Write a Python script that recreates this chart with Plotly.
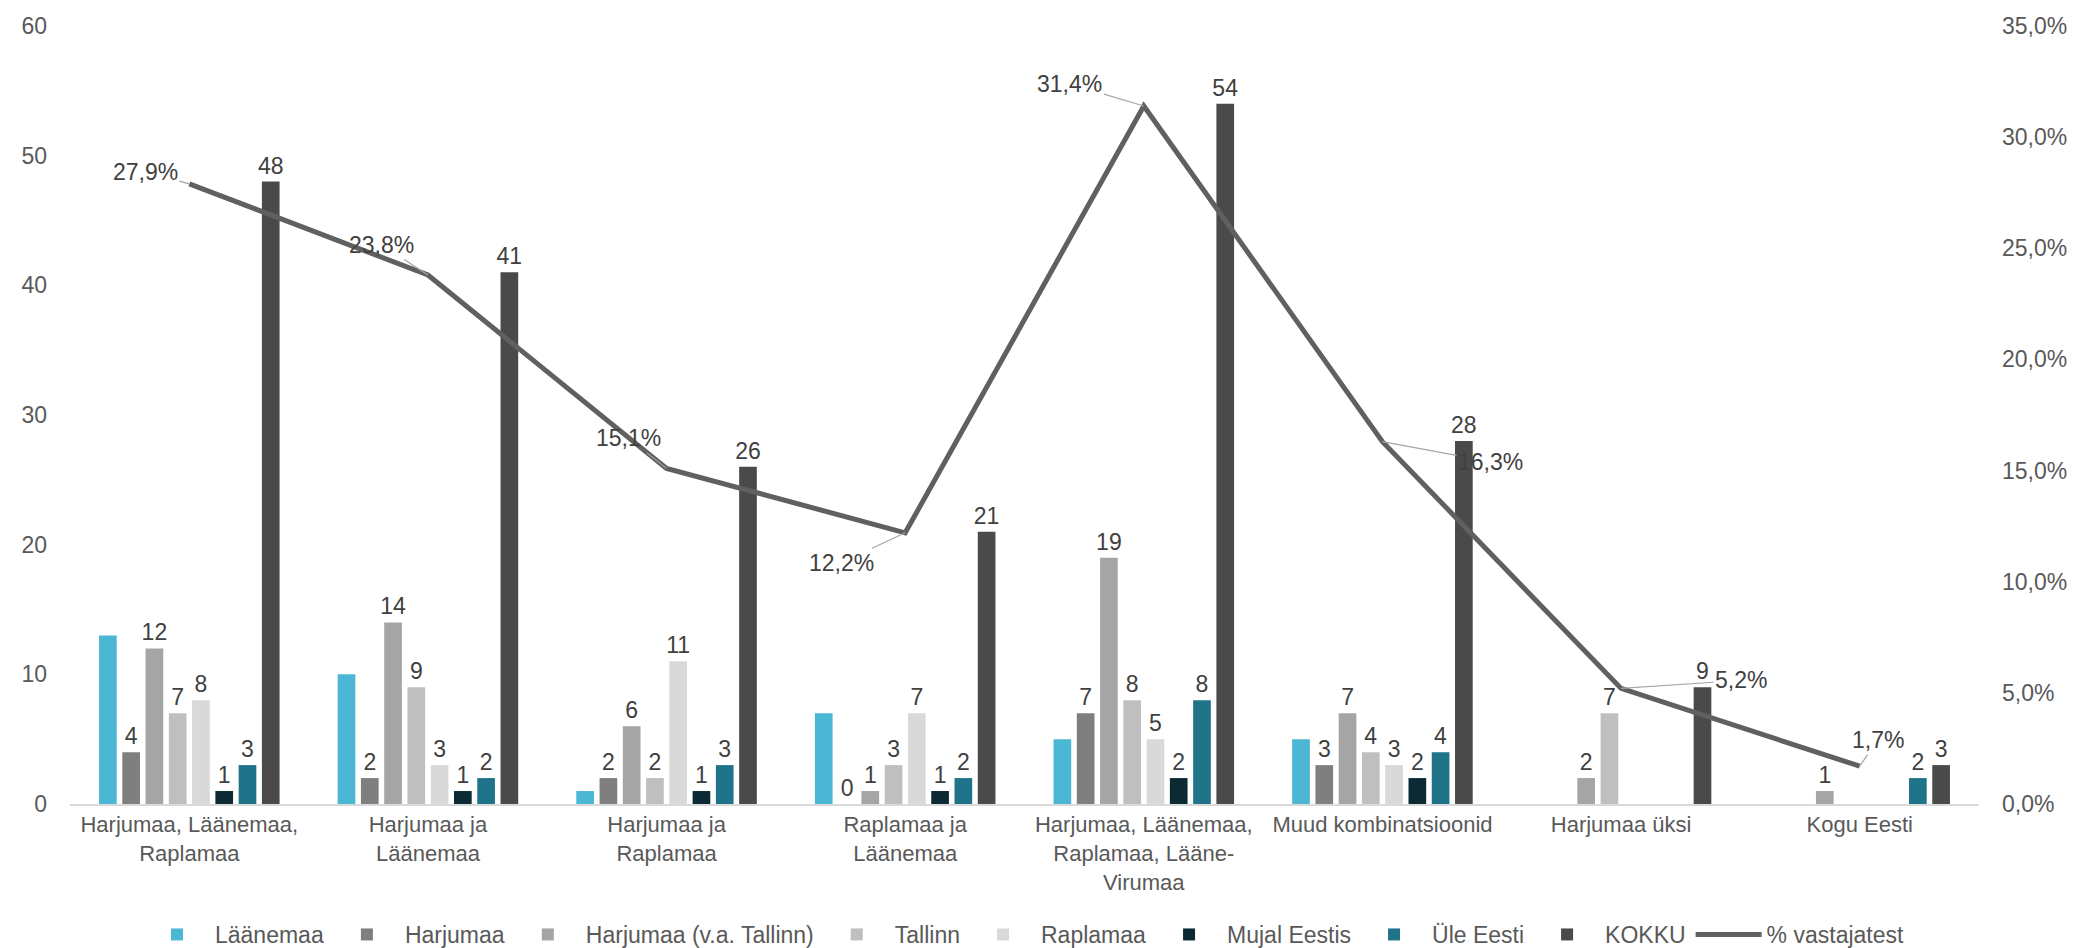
import plotly.graph_objects as go

categories = [
    "Harjumaa, Läänemaa,<br>Raplamaa",
    "Harjumaa ja<br>Läänemaa",
    "Harjumaa ja<br>Raplamaa",
    "Raplamaa ja<br>Läänemaa",
    "Harjumaa, Läänemaa,<br>Raplamaa, Lääne-<br>Virumaa",
    "Muud kombinatsioonid",
    "Harjumaa üksi",
    "Kogu Eesti",
]

laanemaa = [13, 10, 1, 7, 5, 5, None, None]
harjumaa = [4, 2, 2, 0, 7, 3, None, None]
harju_va_tallinn = [12, 14, 6, 1, 19, 7, 2, 1]
tallinn = [7, 9, 2, 3, 8, 4, 7, None]
raplamaa = [8, 3, 11, 7, 5, 3, None, None]
mujal_eestis = [1, 1, 1, 1, 2, 2, None, None]
ule_eesti = [3, 2, 3, 2, 8, 4, None, 2]
kokku = [48, 41, 26, 21, 54, 28, 9, 3]
pct_vastajatest = [0.279, 0.238, 0.151, 0.122, 0.314, 0.163, 0.052, 0.017]

series = [
    ("Läänemaa", laanemaa, "#4BB7D4", False),
    ("Harjumaa", harjumaa, "#7F7F7F", True),
    ("Harjumaa (v.a. Tallinn)", harju_va_tallinn, "#A5A5A5", True),
    ("Tallinn", tallinn, "#BFBFBF", True),
    ("Raplamaa", raplamaa, "#D9D9D9", True),
    ("Mujal Eestis", mujal_eestis, "#0B2A33", True),
    ("Üle Eesti", ule_eesti, "#1F7489", True),
    ("KOKKU", kokku, "#4A4A4A", True),
]

FONT = "Liberation Sans, Arial, sans-serif"
TXT = "#404040"
AX = "#595959"

fig = go.Figure()
for name, vals, color, labelled in series:
    fig.add_trace(go.Bar(
        x=categories, y=vals, name=name, marker_color=color,
        marker_line_width=0,
        text=[("" if v is None else str(v)) for v in vals] if labelled else None,
        textposition="outside" if labelled else "none",
        constraintext="none",
        cliponaxis=False,
        textfont=dict(family=FONT, size=23, color=TXT),
    ))

fig.add_trace(go.Scatter(
    x=categories, y=pct_vastajatest, name="% vastajatest", yaxis="y2",
    mode="lines", line=dict(color="#606060", width=5),
))

# label offsets (pixels) for line data labels
offsets = [(-44, -12), (-46, -30), (-38, -30), (-64, 30), (-74, -22), (108, 20), (120, -8), (18, -26)]
for xc, v, (dx, dy) in zip(categories, pct_vastajatest, offsets):
    fig.add_annotation(
        x=xc, y=v, xref="x", yref="y2",
        text=f"{v*100:.1f}%".replace(".", ","),
        showarrow=True, arrowhead=0, arrowwidth=1.2, arrowcolor="#A6A6A6",
        ax=dx, ay=dy, standoff=0,
        font=dict(family=FONT, size=23, color=TXT),
    )

fig.update_layout(
    width=2084, height=948,
    margin=dict(l=62, r=113, t=18, b=152, autoexpand=False),
    paper_bgcolor="white", plot_bgcolor="white",
    barmode="group", bargap=0.22, bargroupgap=0.24,
    separators=", ",
    font=dict(family=FONT, size=23, color=AX),
    showlegend=True,
    legend=dict(orientation="h", x=0.5, xanchor="center",
                yref="container", y=0.0, yanchor="bottom",
                font=dict(family=FONT, size=23, color=AX),
                itemwidth=66, traceorder="normal"),
    xaxis=dict(showline=True, linecolor="#D9D9D9", linewidth=2, ticks="",
               showgrid=False, tickangle=0,
               tickfont=dict(family=FONT, size=22, color=AX)),
    yaxis=dict(range=[0, 60], dtick=10, showgrid=False, zeroline=False,
               showline=False, ticks="", ticklabelstandoff=22),
    yaxis2=dict(range=[0, 0.35], dtick=0.05, tickformat=".1%", overlaying="y",
                side="right", showgrid=False, zeroline=False, showline=False,
                ticks="", ticklabelstandoff=22),
)

fig.write_html("out.html")
